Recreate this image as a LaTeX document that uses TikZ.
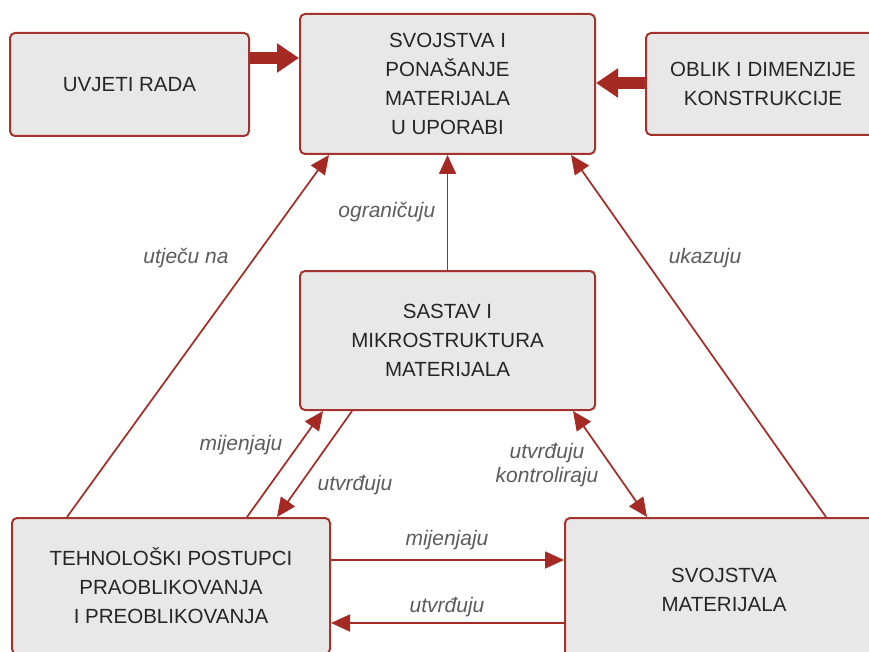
\documentclass[tikz,border=0pt]{standalone}
\usepackage{fontspec}
\setsansfont{Liberation Sans}
\usepackage{xcolor}
\definecolor{frame}{HTML}{A3342D}
\definecolor{arrowred}{HTML}{A52A24}
\definecolor{boxfill}{HTML}{E9E8E8}
\definecolor{ink}{HTML}{262626}
\definecolor{lblgray}{HTML}{5C5C5C}
\usetikzlibrary{arrows.meta,positioning,calc}
\tikzset{
  box/.style={draw=frame,line width=2pt,rounded corners=5pt,fill=boxfill,align=center,
    inner sep=4pt,text=ink,font=\sffamily\fontsize{20.5}{29}\selectfont},
  fat/.style={-{Triangle[length=22pt,width=28pt]},line width=12pt,arrowred},
  tip/.style={Triangle[length=19pt,width=17pt]},
  link/.style={-{Triangle[length=19pt,width=17pt]},line width=1.7pt,arrowred},
  lbl/.style={font=\sffamily\itshape\fontsize{21}{24}\selectfont,text=lblgray,align=center}}

\begin{document}
\begin{tikzpicture}[x=1pt,y=-1pt]
  \useasboundingbox (0,0) rectangle (869,652);
  \clip (0,0) rectangle (869,652);
  \node[box,minimum width=239pt,minimum height=103pt] (uvjeti) at (129.5,84.5) {UVJETI RADA};
  \node[box,minimum width=295pt,minimum height=140pt] (svojstva) at (447.5,84) {SVOJSTVA I\\PONAŠANJE\\MATERIJALA\\U UPORABI};
  \node[box,minimum width=234pt,minimum height=102pt] (oblik) at (763,84) {OBLIK I DIMENZIJE\\KONSTRUKCIJE};
  \node[box,minimum width=295pt,minimum height=139pt] (sastav) at (447.5,340.5) {SASTAV I\\MIKROSTRUKTURA\\MATERIJALA};
  \node[box,minimum width=318pt,minimum height=136pt] (teh) at (171,586) {TEHNOLOŠKI POSTUPCI\\PRAOBLIKOVANJA\\I PREOBLIKOVANJA};
  \node[box,minimum width=318pt,minimum height=144pt] (svm) at (724,590) {SVOJSTVA\\MATERIJALA};
  \draw[fat] ($(uvjeti.east)+(0,-26.5)$) -- ($(svojstva.west)+(0,-26)$);
  \draw[fat] ($(oblik.west)+(0,-1)$) -- ($(svojstva.east)+(0,-1)$);
  \draw[link] (sastav.north) -- node[lbl,left=8pt] (l-ogr) {ograničuju} (svojstva.south);
  \draw[link] ($(teh.north west)+(56,0)$) -- ($(svojstva.south west)+(30,0)$);
  \draw[link] ($(svm.north west)+(262,0)$) -- ($(svojstva.south east)+(-25,0)$);
  \draw[link] ($(teh.north west)+(236,0)$) -- ($(sastav.south west)+(24,0)$);
  \draw[link] ($(sastav.south west)+(53,0)$) -- ($(teh.north west)+(266,0)$);
  \draw[link,{Triangle[length=19pt,width=17pt]}-{Triangle[length=19pt,width=17pt]}] ($(sastav.south east)+(-23,0)$) -- ($(svm.north west)+(83,0)$);
  \draw[link] ($(teh.east)+(0,-26)$) -- ($(svm.west)+(0,-30)$);
  \draw[link] ($(svm.west)+(0,33)$) -- ($(teh.east)+(0,37)$);
  \node[lbl] (l-utj) at (186,258) {utječu na};
  \node[lbl] (l-ukaz) at (705,258) {ukazuju};
  \node[lbl] (l-mij1) at (241,445) {mijenjaju};
  \node[lbl] (l-utv1) at (355,485) {utvrđuju};
  \node[lbl] (l-kon) at (547,465) {utvrđuju\\kontroliraju};
  \node[lbl] (l-mij2) at (447,540) {mijenjaju};
  \node[lbl] (l-utv2) at (447,607) {utvrđuju};
\end{tikzpicture}
\end{document}
